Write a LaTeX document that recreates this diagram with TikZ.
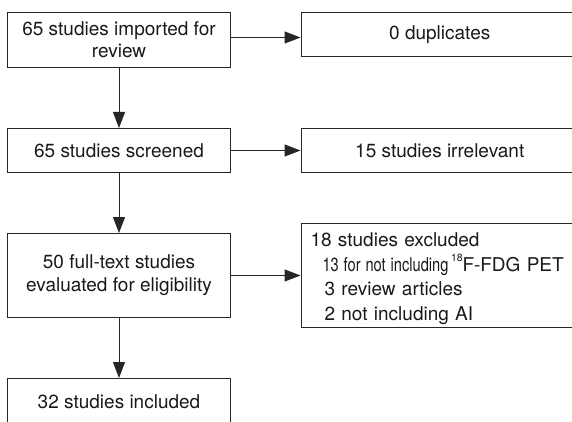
\documentclass[tikz,border=0pt]{standalone}
\usepackage{fontspec}
\setmainfont{TeX Gyre Heros}
\usetikzlibrary{arrows.meta}
\begin{document}
\begin{tikzpicture}[x=1pt,y=-1pt,
  box/.style={draw=black!85, line width=1pt, inner sep=0pt, anchor=north west,
    align=center, text=black!90, font=\fontsize{19}{22}\selectfont},
  arr/.style={draw=black!85, line width=1pt, -{Triangle[length=16pt,width=12pt]}}]
\useasboundingbox (0,0) rectangle (572,422);
\begin{scope}
\clip (0,0) rectangle (572,422);
% left column
\node[box, minimum width=223pt, minimum height=55pt] (b1) at (7,12) {65 studies imported for\\review};
\node[box, minimum width=223pt, minimum height=44pt] (b2) at (7,128) {65 studies screened};
\node[box, minimum width=223pt, minimum height=84pt, font=\fontsize{19}{23}\selectfont] (b3) at (7,233) {50 full-text studies\\evaluated for eligibility};
\node[box, minimum width=223pt, minimum height=46pt] (b4) at (7,378) {32 studies included};
% right column
\node[box, minimum width=277.5pt, minimum height=44pt] (dup) at (300.5,12) {0 duplicates};
\node[box, minimum width=277.5pt, minimum height=44pt] (irr) at (300.5,128) {15 studies irrelevant};
\node[box, minimum width=277.5pt, minimum height=104pt, align=left, text width=258.5pt,
  inner xsep=9.5pt, font=\fontsize{19}{24.5}\selectfont] (exc) at (300.5,223)
  {\rule{0pt}{20.5pt}18 studies excluded\\
   \hspace*{12pt}\resizebox{126pt}{\height}{13 for not including}\hspace{2.5pt}\raisebox{9.5pt}{\fontsize{10.5}{10.5}\selectfont 18}F-FDG PET\\
   \hspace*{14pt}3 review articles\\
   \hspace*{14pt}2 not including AI};
% connectors
\coordinate (a1) at ([yshift=2.5pt]b1.east);
\draw[arr] (a1) -- (a1 -| dup.west);
\draw[arr] (b2.east) -- (irr.west);
\draw[arr] (b3.east) -- (exc.west);
\draw[arr] (b1.south) -- (b2.north);
\draw[arr] (b2.south) -- (b3.north);
\draw[arr] (b3.south) -- (b4.north);
\end{scope}
\end{tikzpicture}
\end{document}
